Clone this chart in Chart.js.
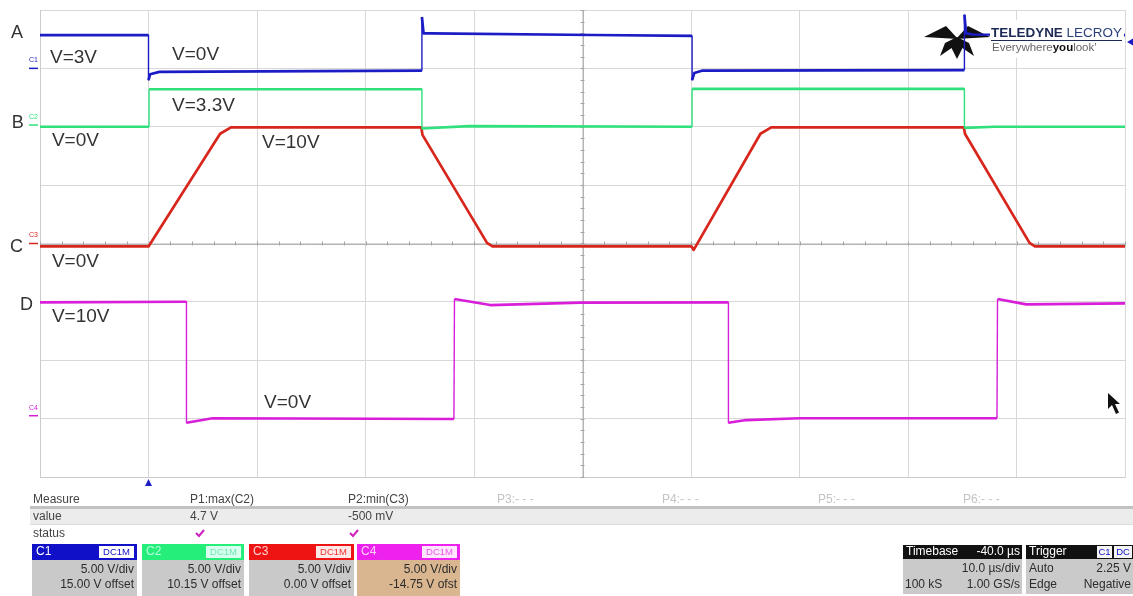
<!DOCTYPE html>
<html><head><meta charset="utf-8">
<script src="https://cdn.jsdelivr.net/npm/chart.js@4.4.1/dist/chart.umd.min.js"></script>
<style>html,body{margin:0;padding:0;background:#fff;overflow:hidden}#wrap{position:relative;width:1133px;height:596px}canvas{display:block}</style>
</head><body><div id="wrap"><canvas id="c" width="1133" height="596"></canvas></div>
<script>
// ---- data (time in µs, values in volts) ----
const channelNames = ['C1', 'C2', 'C3', 'C4'];
const traceLetters = ['A', 'B', 'C', 'D'];
const voltsPerDiv = [5, 5, 5, 5];
const channelOffsets = [15.00, 10.15, 0.00, -14.75];

const timeA  = [-10, 0, 0, 0.15, 1.0, 25.2, 25.2, 25.35, 26.0, 41.0, 50.1, 50.1, 50.3, 51.0, 75.2, 75.2, 75.35, 76.0, 90];
const voltsA = [2.85, 2.85, -1.0, -0.5, -0.3, -0.2, 4.4, 3.0, 3.0, 2.86, 2.78, -1.0, -0.4, -0.2, -0.15, 4.6, 3.0, 2.9, 2.85];

const timeB  = [-10, 0.05, 0.05, 25.2, 25.2, 29.5, 50.1, 50.1, 75.2, 75.2, 78, 90];
const voltsB = [-0.15, -0.15, 3.06, 3.06, -0.3, -0.1, -0.15, 3.1, 3.1, -0.25, -0.15, -0.15];

const timeC  = [-10, 0, 6.6, 7.6, 25.15, 25.25, 31.2, 31.7, 50.05, 50.25, 56.4, 57.4, 75.15, 75.25, 81.2, 81.7, 90];
const voltsC = [-0.25, -0.25, 9.4, 9.94, 9.94, 9.3, 0.05, -0.25, -0.25, -0.55, 9.4, 9.94, 9.94, 9.4, 0.05, -0.25, -0.25];

const timeD  = [-10, 3.5, 3.5, 5.9, 28.15, 28.2, 31.5, 39.8, 53.45, 53.45, 55.1, 60.0, 78.2, 78.25, 80.9, 90];
const voltsD = [9.7, 9.76, -0.6, -0.22, -0.28, 10.0, 9.48, 9.68, 9.71, -0.6, -0.37, -0.22, -0.22, 10.0, 9.54, 9.63];

const noteText = ['V=3V', 'V=0V', 'V=3.3V', 'V=0V', 'V=10V', 'V=0V', 'V=10V', 'V=0V'];

// measurement / settings texts
const measureHeads = ['Measure', 'P1:max(C2)', 'P2:min(C3)', 'P3:- - -', 'P4:- - -', 'P5:- - -', 'P6:- - -'];
const measureValues = ['value', '4.7 V', '-500 mV'];
const timebaseText = ['Timebase', '-40.0 µs', '10.0 µs/div', '100 kS', '1.00 GS/s'];
const triggerText = ['Trigger', 'C1', 'DC', 'Auto', '2.25 V', 'Edge', 'Negative'];
const triggerLevelC1 = 2.25;
const triggerTime = 0;

// ---- styling / layout (not data) ----
const colors = ['#1c1cc4', '#2fe07c', '#d8261c', '#d81ed8'];
const noteAt = [[-9.08, 3.19], [2.17, 3.23], [2.17, 2.36], [-8.9, 1.76], [10.46, 1.72], [-8.9, -0.32], [-8.9, -1.26], [10.65, -2.73]];
const letterAt = [[-12.67, 3.61], [-12.6, 2.06], [-12.76, -0.06], [-11.84, -1.05]];
const FONT = '"Liberation Sans", Arial, sans-serif';

const traces = [[timeA, voltsA], [timeB, voltsB], [timeC, voltsC], [timeD, voltsD]];
const datasets = traces.map((tr, i) => ({
  label: channelNames[i],
  data: tr[0].map((t, k) => ({ x: t, y: tr[1][k] })),
  yAxisID: 'y' + i,
  borderColor: colors[i],
  borderWidth: 2.7,
  pointRadius: 0,
  tension: 0,
  borderJoinStyle: 'round',
  segment: {
    borderWidth: c => Math.abs(c.p1.parsed.x - c.p0.parsed.x) < 0.06 ? 1.4 : 2.7
  }
}));

const scales = {
  x: {
    type: 'linear', min: -10, max: 90,
    ticks: { display: false, stepSize: 10 },
    grid: { color: '#d8d8d8', drawTicks: false, lineWidth: 1 },
    border: { display: true, color: '#cccccc' }
  },
  div: {
    type: 'linear', position: 'left', min: -4, max: 4,
    ticks: { display: false, stepSize: 1 },
    grid: { color: '#d8d8d8', drawTicks: false, lineWidth: 1 },
    border: { display: true, color: '#cccccc' }
  }
};
channelNames.forEach((n, i) => {
  scales['y' + i] = {
    type: 'linear', display: false,
    min: -4 * voltsPerDiv[i] - channelOffsets[i],
    max: 4 * voltsPerDiv[i] - channelOffsets[i]
  };
});

function txt(ctx, s, x, y, font, color, align) {
  ctx.font = font; ctx.fillStyle = color; ctx.textAlign = align || 'left'; ctx.textBaseline = 'middle';
  ctx.fillText(s, x, y);
}

const scopePlugin = {
  id: 'scope',
  beforeDatasetsDraw(chart) {
    const ctx = chart.ctx, a = chart.chartArea, sx = chart.scales.x, sd = chart.scales.div;
    const cx = sx.getPixelForValue(40), cy = sd.getPixelForValue(0);
    ctx.save();
    ctx.strokeStyle = '#b4b4b4'; ctx.lineWidth = 1;
    ctx.beginPath(); ctx.moveTo(a.left, Math.round(cy) + 0.5); ctx.lineTo(a.right, Math.round(cy) + 0.5); ctx.stroke();
    ctx.beginPath(); ctx.moveTo(Math.round(cx) + 0.5, a.top); ctx.lineTo(Math.round(cx) + 0.5, a.bottom); ctx.stroke();
    ctx.strokeStyle = '#a4a4a4';
    for (let t = -10; t <= 90.001; t += 2) {
      const px = Math.round(sx.getPixelForValue(t)) + 0.5;
      ctx.beginPath(); ctx.moveTo(px, cy - 2); ctx.lineTo(px, cy + 2); ctx.stroke();
    }
    for (let d = -4; d <= 4.001; d += 0.2) {
      const py = Math.round(sd.getPixelForValue(d)) + 0.5;
      ctx.beginPath(); ctx.moveTo(cx - 2, py); ctx.lineTo(cx + 2, py); ctx.stroke();
    }
    // logo bird (under traces)
    ctx.fillStyle = '#111';
    ctx.beginPath(); ctx.moveTo(924, 37); ctx.lineTo(946, 26); ctx.lineTo(958, 39); ctx.closePath(); ctx.fill();
    ctx.beginPath(); ctx.moveTo(990, 37); ctx.lineTo(968, 26); ctx.lineTo(956, 39); ctx.closePath(); ctx.fill();
    ctx.beginPath(); ctx.moveTo(957, 37); ctx.lineTo(945, 43); ctx.lineTo(940, 56); ctx.lineTo(953, 47); ctx.closePath(); ctx.fill();
    ctx.beginPath(); ctx.moveTo(957, 37); ctx.lineTo(951, 47); ctx.lineTo(957, 59); ctx.lineTo(963, 47); ctx.closePath(); ctx.fill();
    ctx.beginPath(); ctx.moveTo(957, 37); ctx.lineTo(969, 43); ctx.lineTo(974, 56); ctx.lineTo(961, 47); ctx.closePath(); ctx.fill();
    ctx.restore();
  },
  afterDatasetsDraw(chart) {
    const ctx = chart.ctx, a = chart.chartArea, sx = chart.scales.x, sd = chart.scales.div;
    ctx.save();
    // logo text
    ctx.fillStyle = '#fff'; ctx.fillRect(990, 20, 134, 38);
    ctx.textBaseline = 'middle'; ctx.textAlign = 'left';
    ctx.font = 'bold 13px ' + FONT;
    const w1 = ctx.measureText('TELEDYNE ').width;
    ctx.font = '13px ' + FONT;
    const w2 = ctx.measureText('LECROY').width;
    const k = 131 / (w1 + w2);
    ctx.save(); ctx.translate(991, 33); ctx.scale(k, 1.05);
    ctx.font = 'bold 13px ' + FONT; ctx.fillStyle = '#1c2a55';
    ctx.fillText('TELEDYNE', 0, 0);
    ctx.font = '13px ' + FONT; ctx.fillStyle = '#2a3f7a';
    ctx.fillText('LECROY', w1, 0);
    ctx.restore();
    ctx.fillStyle = '#1c2a55'; ctx.fillRect(991, 40, 131, 1);
    ctx.font = '11.5px ' + FONT; ctx.fillStyle = '#666';
    ctx.fillText('Everywhere', 992, 48);
    let wx = 992 + ctx.measureText('Everywhere').width;
    ctx.font = 'bold 11.5px ' + FONT; ctx.fillStyle = '#111'; ctx.fillText('you', wx, 48);
    wx += ctx.measureText('you').width;
    ctx.font = '11.5px ' + FONT; ctx.fillStyle = '#666'; ctx.fillText('look\u02BC', wx, 48);

    // trace labels
    letterAt.forEach((p, i) => txt(ctx, traceLetters[i], sx.getPixelForValue(p[0]), sd.getPixelForValue(p[1]), '18px ' + FONT, '#333'));
    noteAt.forEach((p, i) => txt(ctx, noteText[i], sx.getPixelForValue(p[0]), sd.getPixelForValue(p[1]), '19px ' + FONT, '#333'));

    // channel ground markers on left edge
    channelNames.forEach((n, i) => {
      const gy = chart.scales['y' + i].getPixelForValue(0);
      ctx.strokeStyle = colors[i]; ctx.lineWidth = 1.5;
      ctx.beginPath(); ctx.moveTo(a.left - 11, gy); ctx.lineTo(a.left - 2, gy); ctx.stroke();
      txt(ctx, n, a.left - 11, gy - 8, '7px ' + FONT, colors[i]);
    });
    // trigger level arrow (right side)
    const ty = chart.scales.y0.getPixelForValue(triggerLevelC1);
    ctx.fillStyle = colors[0];
    ctx.beginPath(); ctx.moveTo(a.right + 2, ty); ctx.lineTo(a.right + 8, ty - 3.5); ctx.lineTo(a.right + 8, ty + 3.5); ctx.closePath(); ctx.fill();
    // trigger position arrow (bottom)
    const tx = sx.getPixelForValue(triggerTime);
    ctx.beginPath(); ctx.moveTo(tx, a.bottom + 2); ctx.lineTo(tx - 3.5, a.bottom + 9); ctx.lineTo(tx + 3.5, a.bottom + 9); ctx.closePath(); ctx.fill();
    // mouse pointer
    ctx.fillStyle = '#111';
    ctx.beginPath(); ctx.moveTo(1108, 393); ctx.lineTo(1108, 409); ctx.lineTo(1112, 405); ctx.lineTo(1116, 414); ctx.lineTo(1119, 412.5); ctx.lineTo(1115, 404); ctx.lineTo(1120, 404); ctx.closePath(); ctx.fill();
    ctx.restore();
  },
  afterDraw(chart) {
    const ctx = chart.ctx;
    ctx.save();
    const F = '12px ' + FONT;
    // measure table
    const colX = [33, 190, 348, 497, 662, 818, 963];
    measureHeads.forEach((s, i) => txt(ctx, s, colX[i], 500, F, i < 3 ? '#444' : '#c4c4c4'));
    ctx.fillStyle = '#c2c2c2'; ctx.fillRect(30, 506, 1103, 3);
    ctx.fillStyle = '#ececec'; ctx.fillRect(30, 509, 1103, 15);
    ctx.fillStyle = '#dcdcdc'; ctx.fillRect(30, 524, 1103, 1);
    measureValues.forEach((s, i) => txt(ctx, s, colX[i], 517, F, '#444'));
    txt(ctx, 'status', 33, 534, F, '#444');
    ctx.strokeStyle = '#d020c0'; ctx.lineWidth = 2;
    [196, 350].forEach(x => { ctx.beginPath(); ctx.moveTo(x, 533); ctx.lineTo(x + 3, 536); ctx.lineTo(x + 8, 530); ctx.stroke(); });

    // channel boxes
    const boxes = [
      [32, 137, '#1010c8', '#ffffff', '#c9c9c9'],
      [142, 244, '#25ee7a', '#d8fff0', '#c9c9c9'],
      [249, 354, '#ee1414', '#ffe8e8', '#c9c9c9'],
      [357, 460, '#ee22ee', '#ffe6ff', '#d9b68f']
    ];
    const boxTextColor = ['#ffffff', '#b8ffe0', '#ffd0d0', '#ffd0ff'];
    const dcTextColor = ['#1010c8', '#70e8b0', '#ee3333', '#ee55ee'];
    boxes.forEach((b, i) => {
      const [x0, x1, hc, dcBg, body] = b;
      ctx.fillStyle = hc; ctx.fillRect(x0, 544, x1 - x0, 16);
      txt(ctx, channelNames[i], x0 + 4, 552, '12px ' + FONT, boxTextColor[i]);
      ctx.fillStyle = dcBg; ctx.fillRect(x1 - 38, 546, 35, 12);
      txt(ctx, 'DC1M', x1 - 20.5, 552, '9.5px ' + FONT, dcTextColor[i], 'center');
      ctx.fillStyle = body; ctx.fillRect(x0, 560, x1 - x0, 36);
      txt(ctx, voltsPerDiv[i].toFixed(2) + ' V/div', x1 - 3, 570, F, '#2c2c2c', 'right');
      txt(ctx, channelOffsets[i].toFixed(2) + (i === 3 ? ' V ofst' : ' V offset'), x1 - 3, 585, F, '#2c2c2c', 'right');
    });

    // timebase
    ctx.fillStyle = '#111'; ctx.fillRect(903, 545, 119, 14);
    txt(ctx, timebaseText[0], 906, 552, F, '#fff');
    txt(ctx, timebaseText[1], 1020, 552, F, '#fff', 'right');
    ctx.fillStyle = '#cacaca'; ctx.fillRect(903, 559, 119, 35);
    txt(ctx, timebaseText[2], 1020, 569, F, '#2c2c2c', 'right');
    txt(ctx, timebaseText[3], 905, 585, F, '#2c2c2c');
    txt(ctx, timebaseText[4], 1020, 585, F, '#2c2c2c', 'right');
    // trigger
    ctx.fillStyle = '#111'; ctx.fillRect(1026, 545, 107, 14);
    txt(ctx, triggerText[0], 1029, 552, F, '#fff');
    ctx.fillStyle = '#f4f4f4'; ctx.fillRect(1097, 546, 15, 12); ctx.fillRect(1114, 546, 18, 12);
    txt(ctx, triggerText[1], 1104.5, 552, '9.5px ' + FONT, '#1010c8', 'center');
    txt(ctx, triggerText[2], 1123, 552, '9.5px ' + FONT, '#1010c8', 'center');
    ctx.fillStyle = '#cacaca'; ctx.fillRect(1026, 559, 107, 35);
    txt(ctx, triggerText[3], 1029, 569, F, '#2c2c2c');
    txt(ctx, triggerText[4], 1131, 569, F, '#2c2c2c', 'right');
    txt(ctx, triggerText[5], 1029, 585, F, '#2c2c2c');
    txt(ctx, triggerText[6], 1131, 585, F, '#2c2c2c', 'right');
    ctx.restore();
  }
};

new Chart(document.getElementById('c'), {
  type: 'line',
  data: { datasets },
  options: {
    responsive: false,
    animation: false,
    devicePixelRatio: 1,
    layout: { padding: { left: 40, right: 8, top: 10, bottom: 119 } },
    plugins: { legend: { display: false }, tooltip: { enabled: false } },
    scales
  },
  plugins: [scopePlugin]
});
</script></body></html>
